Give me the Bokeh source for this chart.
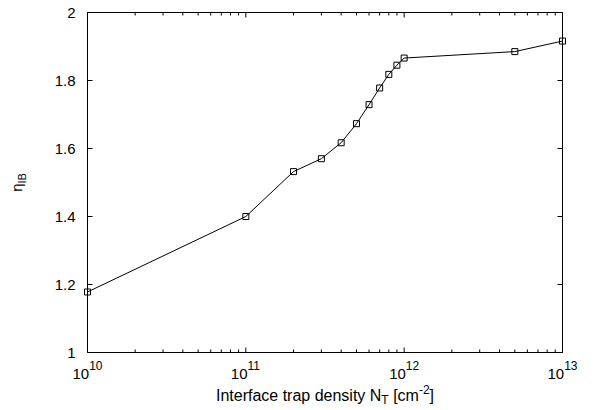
import math
from bokeh.plotting import figure
from bokeh.models import Range1d
from bokeh.core.properties import value
from bokeh.embed import file_html
from bokeh.resources import INLINE

# ---- data ----
trap_density = [1e10, 1e11, 2e11, 3e11, 4e11, 5e11, 6e11, 7e11, 8e11, 9e11, 1e12, 5e12, 1e13]
eta_ib = [1.178, 1.400, 1.532, 1.570, 1.617, 1.673, 1.729, 1.778, 1.818, 1.845, 1.866, 1.885, 1.916]

x_axis_limits = [1e10, 1e13]
y_axis_limits = [1.0, 2.0]
x_tick_exponents = [10, 11, 12, 13]
x_major_ticks = [10.0 ** e for e in x_tick_exponents]
x_minor_ticks = [m * 10.0 ** e for e in x_tick_exponents[:-1] for m in range(2, 10)]
y_ticks = [1.0, 1.2, 1.4, 1.6, 1.8, 2.0]
y_tick_labels = ["1", "1.2", "1.4", "1.6", "1.8", "2"]

# ---- layout (pixels) ----
CW, CH = 594, 410
BOX_L, BOX_R, BOX_T, BOX_B = 87, 562, 12, 352
x0, x1 = x_axis_limits
y0, y1 = y_axis_limits
DX = (BOX_R - BOX_L) / (math.log10(x1) - math.log10(x0))   # px per decade
DY = (BOX_B - BOX_T) / (y1 - y0)                             # px per unit


def xshift(x, dpx):
    return x * 10 ** (dpx / DX)


def yshift(y, dpx_down):
    return y - dpx_down / DY


x_range = Range1d(xshift(x0, -BOX_L), xshift(x1, CW - BOX_R))
y_range = Range1d(yshift(y0, CH - BOX_B), yshift(y1, -BOX_T))

FONT = "Liberation Sans"
W = {' ': 278, 'I': 278, 'n': 556, 't': 278, 'e': 556, 'r': 333, 'f': 278, 'a': 556,
     'c': 500, 'p': 556, 'd': 556, 's': 500, 'i': 222, 'y': 500, 'N': 722, 'T': 611,
     '[': 278, 'm': 833, ']': 278, '-': 333, '0': 556, '1': 556, '2': 556, '3': 556,
     'B': 667, 'η': 556}


def tw(s, size):
    return sum(W.get(ch, 556) for ch in s) * size / 1000.0


p = figure(width=CW, height=CH, x_axis_type="log", x_range=x_range, y_range=y_range,
           x_axis_location=None, y_axis_location=None,
           output_backend="svg", toolbar_location=None,
           min_border=0, min_border_left=0, min_border_right=0,
           min_border_top=0, min_border_bottom=0)
p.background_fill_color = "white"
p.border_fill_color = "white"
p.outline_line_color = None
p.grid.visible = False

# plot box
p.quad(left=[x0], right=[x1], bottom=[y0], top=[y1], fill_color=None,
       line_color="black", line_width=1)

# ticks (inward)
MAJ, MIN = 5, 3
p.ray(x=x_major_ticks, y=y0, length=MAJ, length_units="screen", angle=math.pi / 2,
      line_color="black", line_width=1)
p.ray(x=x_minor_ticks, y=y0, length=MIN, length_units="screen", angle=math.pi / 2,
      line_color="black", line_width=1)
p.ray(x=x_major_ticks, y=y1, length=MAJ, length_units="screen", angle=-math.pi / 2,
      line_color="black", line_width=1)
p.ray(x=x_minor_ticks, y=y1, length=MIN, length_units="screen", angle=-math.pi / 2,
      line_color="black", line_width=1)
p.ray(x=x0, y=y_ticks, length=MAJ, length_units="screen", angle=0,
      line_color="black", line_width=1)
p.ray(x=x1, y=y_ticks, length=MAJ, length_units="screen", angle=math.pi,
      line_color="black", line_width=1)

# data
p.line(trap_density, eta_ib, line_color="black", line_width=1)
p.scatter(trap_density, eta_ib, marker="square", size=6, fill_color=None,
          line_color="black", line_width=1)

# y tick labels
p.text(x=[xshift(x0, -12)] * len(y_ticks), y=y_ticks, text=y_tick_labels,
       text_align="right", text_baseline="middle",
       text_font=value(FONT), text_font_size=value("15px"), text_color="black")

# x tick labels 10^n
BS, ES = 15, 12
base_x, exp_x, exp_txt = [], [], []
for xt, e in zip(x_major_ticks, x_tick_exponents):
    es = str(e)
    total = tw("10", BS) + tw(es, ES)
    base_x.append(xshift(xt, -total / 2.0))
    exp_x.append(xshift(xt, -total / 2.0 + tw("10", BS)))
    exp_txt.append(es)
p.text(x=base_x, y=[yshift(y0, 21)] * len(base_x), text=["10"] * len(base_x),
       text_align="left", text_baseline="alphabetic",
       text_font=value(FONT), text_font_size=value(f"{BS}px"), text_color="black")
p.text(x=exp_x, y=[yshift(y0, 13)] * len(exp_x), text=exp_txt,
       text_align="left", text_baseline="alphabetic",
       text_font=value(FONT), text_font_size=value(f"{ES}px"), text_color="black")

# x axis label: Interface trap density N_T [cm^-2]
xc = 10 ** ((math.log10(x0) + math.log10(x1)) / 2.0)
L, S = 16, 12
# (text, font size, baseline shift down in px, leading gap in px)
pieces = [("Interface trap density N", L, 0, 0), ("T", S, 4, 0), ("[cm", L, 0, tw(" ", L)),
          ("-2", S, -6, 0), ("]", L, 0, 0)]
total = sum(tw(t, s) + g for t, s, _, g in pieces)
off = -total / 2.0
for t, s, dy, g in pieces:
    off += g
    p.text(x=[xshift(xc, off)], y=[yshift(y0, 43 + dy)], text=[t],
           text_align="left", text_baseline="alphabetic",
           text_font=value(FONT), text_font_size=value(f"{s}px"), text_color="black")
    off += tw(t, s)

# y axis label: eta_IB (rotated)
yc = (y0 + y1) / 2.0
EL, ESB = 15, 11
ytot = tw("η", EL) + tw("IB", ESB)
p.text(x=[xshift(x0, -71)], y=[yshift(yc, ytot / 2.0)], text=["η"], angle=math.pi / 2,
       text_align="left", text_baseline="alphabetic",
       text_font=value(FONT), text_font_size=value(f"{EL}px"), text_color="black")
p.text(x=[xshift(x0, -65.5)], y=[yshift(yc, ytot / 2.0 - tw("η", EL))], text=["IB"],
       angle=math.pi / 2, text_align="left", text_baseline="alphabetic",
       text_font=value(FONT), text_font_size=value(f"{ESB}px"), text_color="black")

open("out.html", "w").write(file_html(p, INLINE))
